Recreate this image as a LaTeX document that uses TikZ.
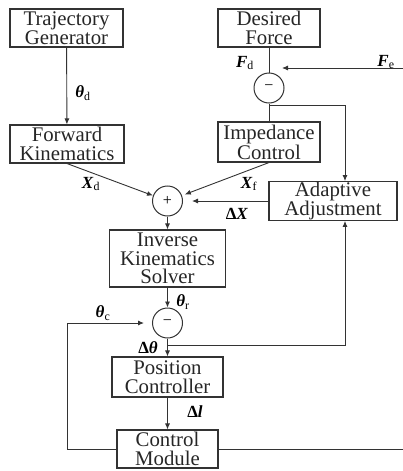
\documentclass[tikz,border=0pt]{standalone}
\usepackage{fontspec}
\setmainfont{Liberation Serif}
\usetikzlibrary{arrows.meta}
\newcommand{\sig}[2]{\textbf{\textit{#1}}\textsubscript{#2}}
\begin{document}
\begin{tikzpicture}[x=1pt,y=-1pt,
  blk/.style={draw=black!80, line width=1.1pt, align=center, inner sep=0pt,
    font=\fontsize{20.8}{18.5}\selectfont, text=black!85},
  sumc/.style={circle, draw=black!80, line width=1pt, minimum size=30pt, inner sep=0pt,
    font=\fontsize{16}{16}\selectfont},
  lab/.style={inner sep=0pt, font=\fontsize{17}{17}\selectfont},
  ln/.style={draw=black!80, line width=0.9pt},
  arr/.style={ln, -{Latex[length=6pt,width=5pt]}}
]
\useasboundingbox (0,0) rectangle (403,471);
% blocks
\node[blk, minimum width=113pt, minimum height=38pt] (traj) at (66.5,28) {Trajectory\\Generator};
\node[blk, minimum width=114pt, minimum height=38pt] (fwd) at (67,144) {Forward\\Kinematics};
\node[blk, minimum width=102pt, minimum height=38pt] (des) at (269,28) {Desired\\Force};
\node[blk, minimum width=102pt, minimum height=40pt] (imp) at (269,142) {Impedance\\Control};
\node[blk, minimum width=128pt, minimum height=38pt] (adapt) at (333,201) {Adaptive\\Adjustment};
\node[blk, minimum width=116pt, minimum height=57pt] (inv) at (167.5,258.5) {Inverse\\Kinematics\\Solver};
\node[blk, minimum width=111pt, minimum height=40pt] (pos) at (167.5,377) {Position\\Controller};
\node[blk, minimum width=101pt, minimum height=38pt] (ctrl) at (167.5,449) {Control\\Module};
% summing junctions
\node[sumc] (minus1) at (269,88) {−};
\node[sumc] (plus) at (167.5,201) {+};
\node[sumc] (minus2) at (167.5,323) {−};
% helper coordinates
\coordinate (feS) at (403,68);
\coordinate (feE) at (282,68);
\coordinate (brA) at (269,105);
\coordinate (brAx) at (345,105);
\coordinate (brB) at (167.5,345);
\coordinate (brBx) at (345,345);
\coordinate (fbL) at (67,323);
\coordinate (ctrlR) at (403,449);
% connectors
\draw[arr] (traj) -- (fwd);
\draw[arr] (fwd.south) -- (plus);
\draw[arr, shorten >=3pt] (imp.south) -- (plus);
\draw[arr, shorten >=9pt] (adapt.west) -- (plus);
\draw[arr] (plus) -- (inv);
\draw[arr] (inv) -- (minus2);
\draw[arr] (minus2) -- (pos);
\draw[arr] (pos) -- (ctrl);
\draw[arr, shorten >=8pt] (ctrl.west) -| (fbL) -- (minus2);
\draw[ln] (ctrl.east) -- (ctrlR);
\draw[ln] (des) -- (minus1);
\draw[ln] (minus1) -- (imp);
\draw[arr] (feS) -- (feE);
\draw[arr] (brA) -- (brAx) -- (adapt.north -| brAx);
\draw[arr] (brB) -- (brBx) -- (adapt.south -| brBx);
% labels
\node[lab] (lthd) at (83,93) {\sig{θ}{d}};
\node[lab] (lfd) at (245,63) {\sig{F}{d}};
\node[lab] (lfe) at (386,62) {\sig{F}{e}};
\node[lab] (lxd) at (91,184) {\sig{X}{d}};
\node[lab] (lxf) at (249,184) {\sig{X}{f}};
\node[lab] (ldx) at (237,214) {\textbf{Δ\textit{X}}};
\node[lab] (lthr) at (183,302) {\sig{θ}{r}};
\node[lab] (lthc) at (103,313) {\sig{θ}{c}};
\node[lab] (ldth) at (148,348) {\textbf{Δ\textit{θ}}};
\node[lab] (ldl) at (195,412) {\textbf{Δ\textit{l}}};
\end{tikzpicture}
\end{document}
